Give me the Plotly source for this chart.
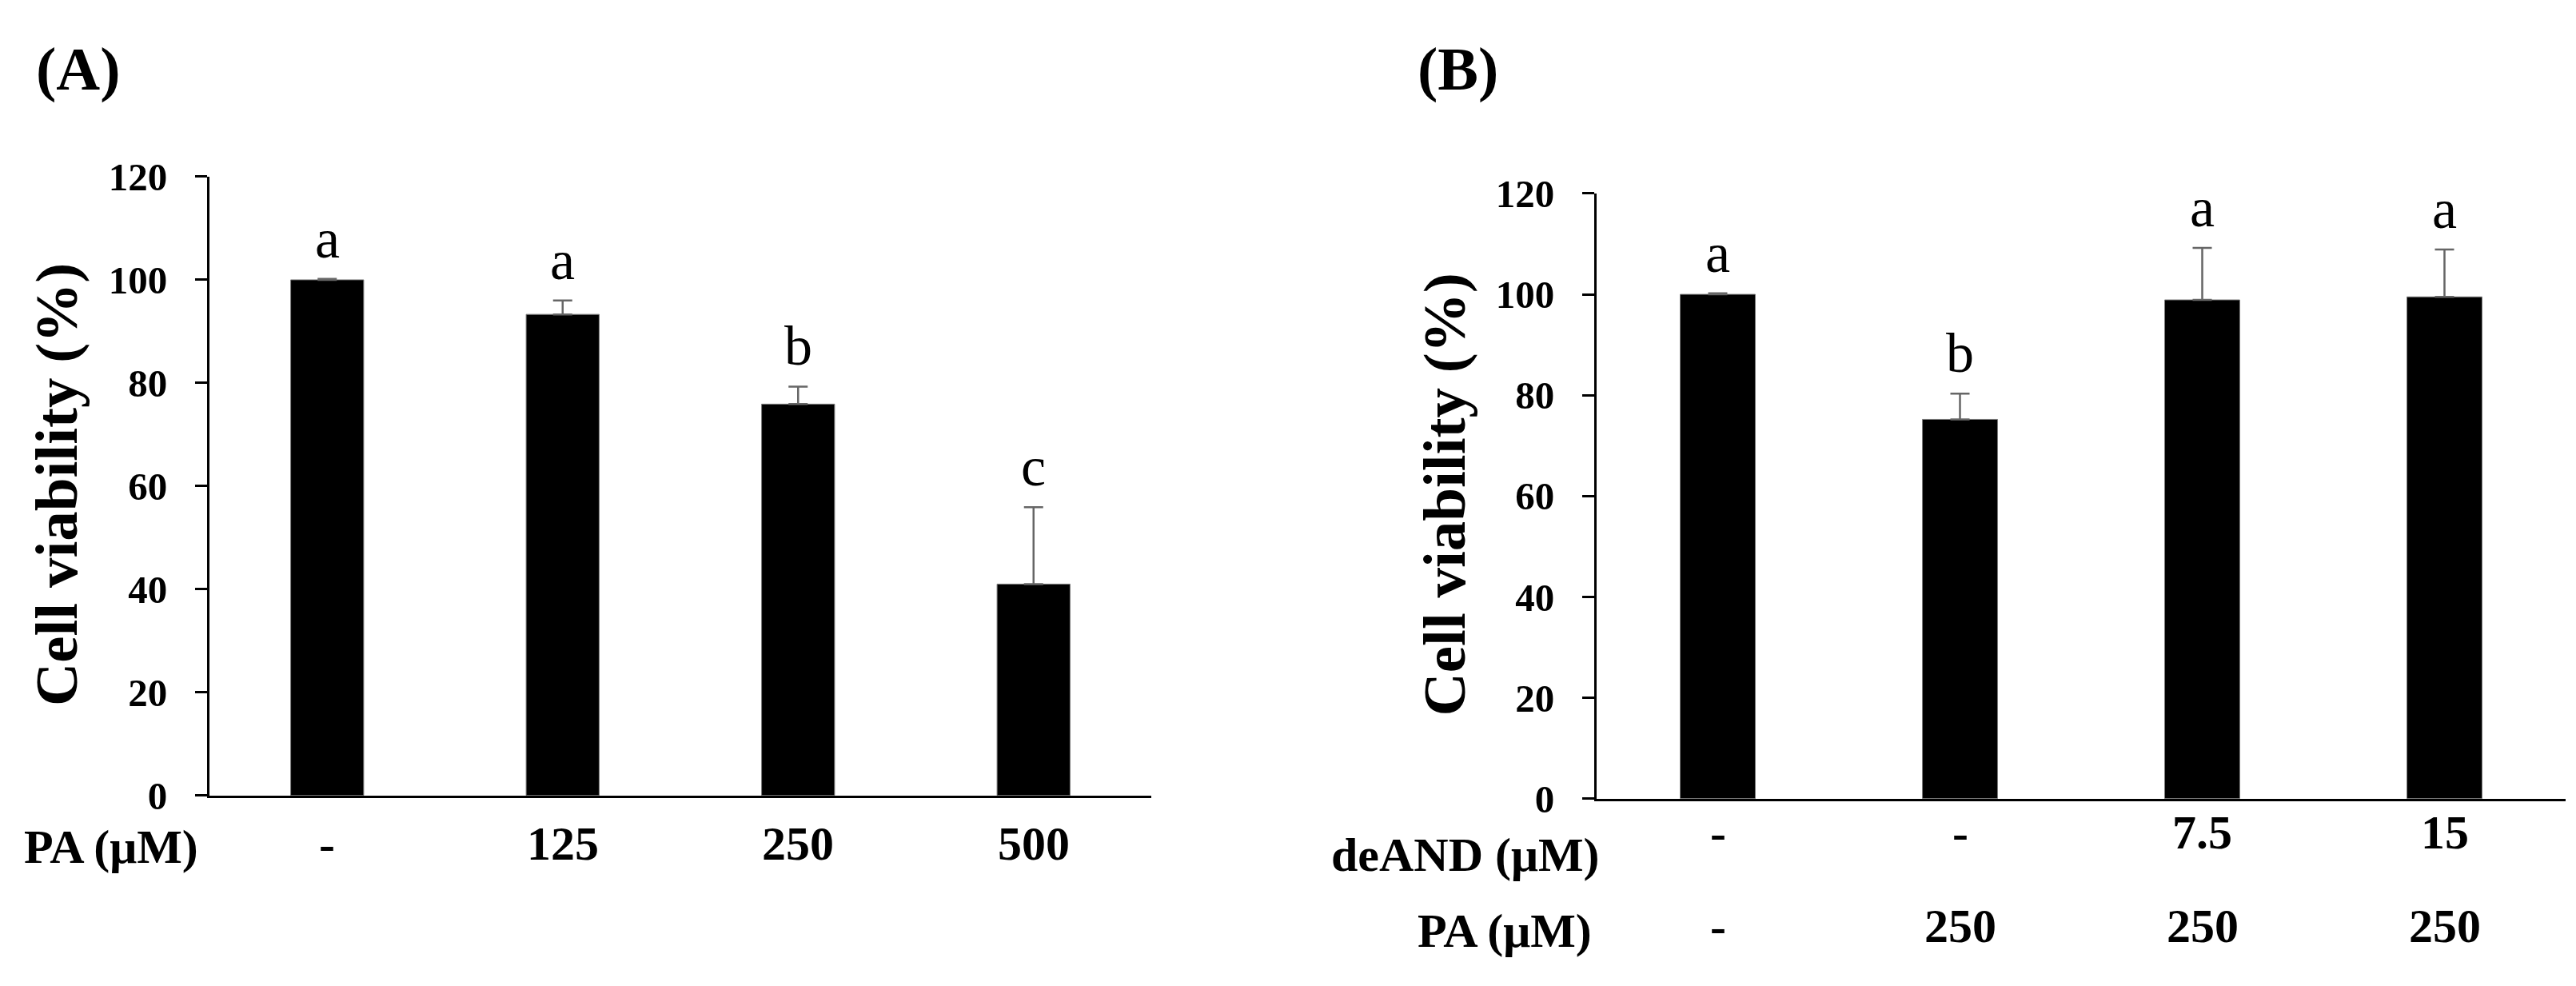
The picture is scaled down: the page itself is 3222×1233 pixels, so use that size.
import plotly.graph_objects as go

# ---------------- data ----------------
a_pa_labels = ["-", "125", "250", "500"]
a_values = [100.0, 93.3, 75.9, 41.0]
a_errors = [0.2, 2.7, 3.4, 14.9]
a_letters = ["a", "a", "b", "c"]

b_deand_labels = ["-", "-", "7.5", "15"]
b_pa_labels = ["-", "250", "250", "250"]
b_values = [100.0, 75.2, 98.9, 99.5]
b_errors = [0.2, 5.1, 10.3, 9.4]
b_letters = ["a", "b", "a", "a"]

y_ticks = [0, 20, 40, 60, 80, 100, 120]
y_title = "Cell viability (%)"

# ---------------- layout helpers ----------------
W, H = 3222, 1233
SERIF = "Liberation Serif, Times New Roman, serif"


def px(x):
    return x / W


def py(y):
    return 1 - y / H


# non-numeric category keys (so Plotly never reads them as indices)
a_x = [f"PA {p}" for p in a_pa_labels]
b_x = [f"deAND {d} / PA {p}" for d, p in zip(b_deand_labels, b_pa_labels)]

fig = go.Figure()

err_style = dict(type="data", symmetric=False, color="#666666", thickness=2.5, width=12)
bar_line = dict(color="#7a7a7a", width=1)

fig.add_trace(go.Bar(
    x=a_x, y=a_values, xaxis="x", yaxis="y", width=0.31,
    marker=dict(color="black", line=bar_line),
    error_y=dict(array=a_errors, arrayminus=[0] * len(a_errors), **err_style),
    showlegend=False, hoverinfo="skip"))

fig.add_trace(go.Bar(
    x=b_x, y=b_values, xaxis="x2", yaxis="y2", width=0.31,
    marker=dict(color="black", line=bar_line),
    error_y=dict(array=b_errors, arrayminus=[0] * len(b_errors), **err_style),
    showlegend=False, hoverinfo="skip"))

yax = dict(range=[0, 120], tickvals=y_ticks, showgrid=False, zeroline=False,
           showline=True, linecolor="black", linewidth=3,
           ticks="outside", ticklen=15, tickwidth=3, tickcolor="black",
           tickfont=dict(family=SERIF, size=49, color="black", weight="bold"),
           ticklabelstandoff=25)
xax = dict(type="category", range=[-0.5, 3.5], showgrid=False, zeroline=False, showline=True,
           linecolor="black", linewidth=3, ticks="", showticklabels=False)

fig.update_layout(
    width=W, height=H,
    margin=dict(l=0, r=0, t=0, b=0),
    paper_bgcolor="white", plot_bgcolor="white",
    xaxis=dict(domain=[px(262), px(1440)], anchor="y", categoryarray=a_x,
               categoryorder="array", **xax),
    yaxis=dict(domain=[py(1013), py(203)], anchor="x", **yax),
    xaxis2=dict(domain=[px(1997), px(3209)], anchor="y2", categoryarray=b_x,
                categoryorder="array", **xax),
    yaxis2=dict(domain=[py(1017), py(225)], anchor="x2", **yax),
)

ann = []
bold = dict(family=SERIF, color="black")

# panel labels
ann.append(dict(text="<b>(A)</b>", x=px(98), y=py(62), xref="paper", yref="paper",
                showarrow=False, xanchor="center", yanchor="middle",
                font=dict(size=76, **bold)))
ann.append(dict(text="<b>(B)</b>", x=px(1824), y=py(62), xref="paper", yref="paper",
                showarrow=False, xanchor="center", yanchor="middle",
                font=dict(size=76, **bold)))

# y titles
for xc, yc in [(71, 606), (1806, 619)]:
    ann.append(dict(text=f"<b>{y_title}</b>", x=px(xc), y=py(yc), xref="paper", yref="paper",
                    showarrow=False, textangle=-90, xanchor="center", yanchor="middle",
                    font=dict(size=75, **bold)))

# significance letters
for xs, vals, errs, lets, xr, yr in [(a_x, a_values, a_errors, a_letters, "x", "y"),
                                     (b_x, b_values, b_errors, b_letters, "x2", "y2")]:
    for xc, v, e, l in zip(xs, vals, errs, lets):
        ann.append(dict(text=l, x=xc, y=v + e, xref=xr, yref=yr, showarrow=False,
                        xanchor="center", yanchor="bottom", yshift=10,
                        font=dict(family=SERIF, size=70, color="black")))

# category rows
for xc, t in zip(a_x, a_pa_labels):
    ann.append(dict(text=f"<b>{t}</b>", x=xc, y=py(1076), xref="x", yref="paper",
                    showarrow=False, xanchor="center", yanchor="middle",
                    font=dict(size=60, **bold)))
ann.append(dict(text="<b>PA (μM)</b>", x=px(250), y=py(1080), xref="paper", yref="paper",
                showarrow=False, xanchor="right", yanchor="middle", font=dict(size=60, **bold)))

for xc, t in zip(b_x, b_deand_labels):
    ann.append(dict(text=f"<b>{t}</b>", x=xc, y=py(1061), xref="x2", yref="paper",
                    showarrow=False, xanchor="center", yanchor="middle",
                    font=dict(size=60, **bold)))
for xc, t in zip(b_x, b_pa_labels):
    ann.append(dict(text=f"<b>{t}</b>", x=xc, y=py(1184), xref="x2", yref="paper",
                    showarrow=False, xanchor="center", yanchor="middle",
                    font=dict(size=60, **bold)))
ann.append(dict(text="<b>deAND (μM)</b>", x=px(2003), y=py(1091), xref="paper", yref="paper",
                showarrow=False, xanchor="right", yanchor="middle", font=dict(size=60, **bold)))
ann.append(dict(text="<b>PA (μM)</b>", x=px(1993), y=py(1190), xref="paper", yref="paper",
                showarrow=False, xanchor="right", yanchor="middle", font=dict(size=60, **bold)))

fig.update_layout(annotations=ann)
fig.write_html("out.html",
               config={"displayModeBar": False},
               post_script="document.body.style.margin='0px';document.body.style.overflow='hidden';")
